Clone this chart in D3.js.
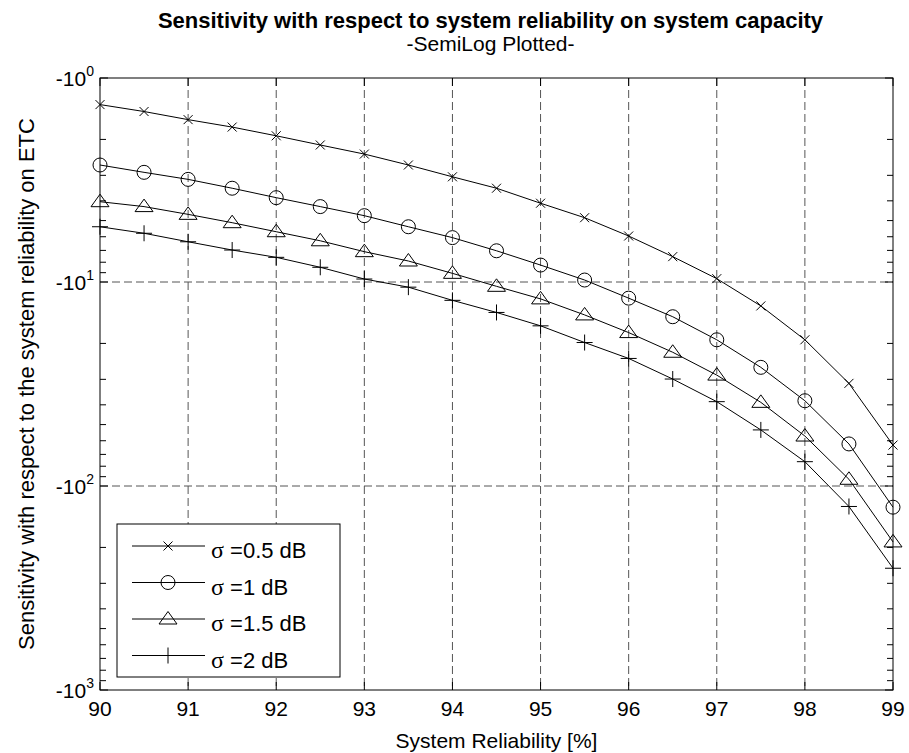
<!DOCTYPE html>
<html>
<head>
<meta charset="utf-8">
<script src="https://cdn.jsdelivr.net/npm/d3@7"></script>
<style>
  body { margin: 0; background: #fff; }
  text { font-family: "Liberation Sans", Arial, sans-serif; fill: #000; }
</style>
</head>
<body>
<svg id="svg" width="909" height="753"></svg>
<script>
// system reliability [%]
var reliability = [90, 90.5, 91, 91.5, 92, 92.5, 93, 93.5, 94, 94.5, 95, 95.5, 96, 96.5, 97, 97.5, 98, 98.5, 99];

// sensitivity values (negative), one array per sigma
var sens05 = [-1.35, -1.46, -1.60, -1.74, -1.92, -2.13, -2.36, -2.67, -3.05, -3.47, -4.11, -4.84, -5.95, -7.51, -9.63, -13.1, -19.2, -31.4, -63.0];
var sens1 = [-2.67, -2.90, -3.14, -3.47, -3.86, -4.27, -4.73, -5.36, -6.06, -7.03, -8.26, -9.78, -12.0, -14.8, -19.2, -26.2, -38.2, -62.2, -127];
var sens15 = [-4.04, -4.27, -4.66, -5.12, -5.67, -6.28, -7.10, -7.89, -9.07, -10.5, -12.1, -14.5, -17.7, -22.1, -28.6, -38.9, -56.9, -92.7, -188];
var sens2 = [-5.36, -5.77, -6.35, -6.97, -7.57, -8.47, -9.67, -10.6, -12.3, -14.1, -16.4, -19.8, -23.7, -29.9, -38.6, -53.1, -76, -126, -253];

var seriesNames = ['=0.5 dB', '=1 dB', '=1.5 dB', '=2 dB'];
var xTicks = [90, 91, 92, 93, 94, 95, 96, 97, 98, 99];
var yMajor = [-1, -10, -100, -1000];

var svg = d3.select('svg');
var plotLeft = 100, plotRight = 893, plotTop = 78, plotBottom = 690;

var x = d3.scaleLinear().domain([90, 99]).range([plotLeft, plotRight]);
var y = d3.scaleLog().domain([-1, -1000]).range([plotTop, plotBottom]);

// marker shapes, drawn as stroked paths
var markers = [
  'M-4.5,-4.5L4.5,4.5M-4.5,4.5L4.5,-4.5',
  'M7,0A7,7 0 1,1 -7,0A7,7 0 1,1 7,0',
  'M0,-7.5L9,5L-9,5Z',
  'M-8,0H8M0,-8V8'
];
var allSeries = [sens05, sens1, sens15, sens2];

// grid
var grid = svg.append('g')
  .attr('stroke', '#555')
  .attr('stroke-width', 1)
  .attr('stroke-dasharray', '8,4');
grid.selectAll('line.vx')
  .data(xTicks.slice(1, -1))
  .enter().append('line')
  .attr('x1', function (d) { return x(d); })
  .attr('x2', function (d) { return x(d); })
  .attr('y1', plotTop)
  .attr('y2', plotBottom);
grid.selectAll('line.hy')
  .data(yMajor.slice(1, -1))
  .enter().append('line')
  .attr('y1', function (d) { return y(d); })
  .attr('y2', function (d) { return y(d); })
  .attr('x1', plotLeft)
  .attr('x2', plotRight);

// ticks (inward, both sides)
var ticks = svg.append('g').attr('stroke', '#000').attr('stroke-width', 1);
xTicks.forEach(function (d) {
  ticks.append('line').attr('x1', x(d)).attr('x2', x(d)).attr('y1', plotBottom).attr('y2', plotBottom - 8);
  ticks.append('line').attr('x1', x(d)).attr('x2', x(d)).attr('y1', plotTop).attr('y2', plotTop + 8);
});
y.ticks().forEach(function (d) {
  var major = yMajor.indexOf(d) >= 0;
  var len = major ? 8 : 6;
  ticks.append('line').attr('x1', plotLeft).attr('x2', plotLeft + len).attr('y1', y(d)).attr('y2', y(d));
  ticks.append('line').attr('x1', plotRight).attr('x2', plotRight - len).attr('y1', y(d)).attr('y2', y(d));
});

// axis box
svg.append('rect')
  .attr('x', plotLeft).attr('y', plotTop)
  .attr('width', plotRight - plotLeft).attr('height', plotBottom - plotTop)
  .attr('fill', 'none').attr('stroke', '#000').attr('stroke-width', 1);

// x tick labels
svg.selectAll('text.xt')
  .data(xTicks)
  .enter().append('text')
  .attr('x', function (d) { return x(d); })
  .attr('y', plotBottom + 26)
  .attr('text-anchor', 'middle')
  .attr('font-size', 21)
  .text(function (d) { return d; });

// y tick labels: -10^k
yMajor.forEach(function (d) {
  var t = svg.append('text')
    .attr('x', plotLeft - 6)
    .attr('y', y(d) + 8)
    .attr('text-anchor', 'end')
    .attr('font-size', 21)
    .text('-10');
  t.append('tspan')
    .attr('dy', -10)
    .attr('font-size', 14)
    .text(Math.round(Math.log10(-d)));
});

// lines and markers
var line = d3.line()
  .x(function (d, i) { return x(reliability[i]); })
  .y(function (d) { return y(d); });

allSeries.forEach(function (s, k) {
  svg.append('path')
    .attr('d', line(s))
    .attr('fill', 'none')
    .attr('stroke', '#000')
    .attr('stroke-width', 1);
  svg.append('g').selectAll('path')
    .data(s)
    .enter().append('path')
    .attr('d', markers[k])
    .attr('transform', function (d, i) { return 'translate(' + x(reliability[i]) + ',' + y(d) + ')'; })
    .attr('fill', 'none')
    .attr('stroke', '#000')
    .attr('stroke-width', 1);
});

// legend
var legend = svg.append('g');
legend.append('rect')
  .attr('x', 117).attr('y', 524)
  .attr('width', 223).attr('height', 153)
  .attr('fill', '#fff').attr('stroke', '#000').attr('stroke-width', 1);
seriesNames.forEach(function (name, k) {
  var ry = 546 + k * 36.5;
  legend.append('line')
    .attr('x1', 132).attr('x2', 205)
    .attr('y1', ry).attr('y2', ry)
    .attr('stroke', '#000');
  legend.append('path')
    .attr('d', markers[k])
    .attr('transform', 'translate(168,' + ry + ')')
    .attr('fill', 'none').attr('stroke', '#000');
  var t = legend.append('text')
    .attr('x', 211)
    .attr('y', ry + 12)
    .attr('font-size', 22);
  t.append('tspan')
    .style('font-family', '"Liberation Serif", "DejaVu Serif", serif')
    .attr('font-size', 24)
    .text('\u03c3');
  t.append('tspan').text(' ' + name);
});

// titles
svg.append('text')
  .attr('x', (plotLeft + plotRight) / 2 - 6).attr('y', 28)
  .attr('text-anchor', 'middle')
  .attr('font-size', 22).attr('font-weight', 'bold')
  .text('Sensitivity with respect to system reliability on system capacity');
svg.append('text')
  .attr('x', (plotLeft + plotRight) / 2 - 6).attr('y', 51)
  .attr('text-anchor', 'middle')
  .attr('font-size', 21)
  .text('-SemiLog Plotted-');
svg.append('text')
  .attr('x', (plotLeft + plotRight) / 2).attr('y', 748)
  .attr('text-anchor', 'middle')
  .attr('font-size', 21)
  .text('System Reliability [%]');
svg.append('text')
  .attr('transform', 'translate(34,' + (plotTop + plotBottom) / 2 + ') rotate(-90)')
  .attr('text-anchor', 'middle')
  .attr('font-size', 22)
  .text('Sensitivity with respect to the system reliability on ETC');
</script>
</body>
</html>
